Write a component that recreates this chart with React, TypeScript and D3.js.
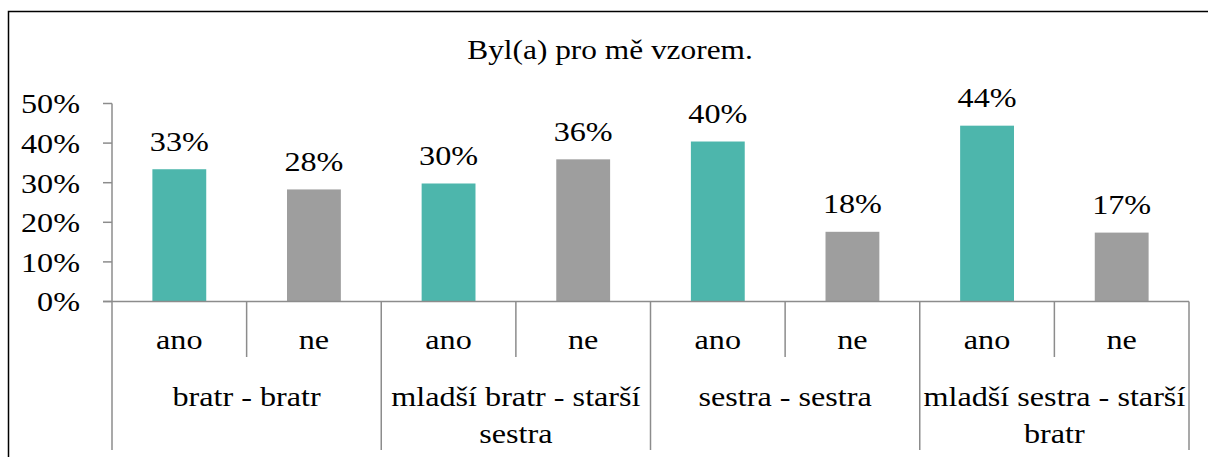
import React, { useLayoutEffect, useRef, useState } from "react";
import * as d3 from "d3";

const title = "Byl(a) pro mě vzorem.";
const groups = ["bratr - bratr", "mladší bratr - starší sestra", "sestra - sestra", "mladší sestra - starší bratr"];
const answers = ["ano", "ne"];
const values = [
  [0.334, 0.283],
  [0.298, 0.359],
  [0.404, 0.176],
  [0.444, 0.174],
];
const yTicks = [0, 0.1, 0.2, 0.3, 0.4, 0.5];
const colors = ["#4DB6AC", "#9E9E9E"];

const W = 1208;
const H = 457;
const FONT = "Liberation Serif";
const FS = 28;
const SX = 1.15;
const AXIS = "#8c8c8c";

const left = 112, right = 1189, top = 103.5, bottom = 301.5;

function T(props: { x: number; y: number; anchor?: string; size?: number; sx?: number; dy?: string; children: any }) {
  const { x, y, anchor = "middle", size = FS, sx = SX, dy, children } = props;
  return (
    <text
      transform={`translate(${x},${y}) scale(${sx},1)`}
      textAnchor={anchor}
      dy={dy}
      style={{ fontFamily: FONT, fontSize: `${size}px` }}
      fill="#000"
    >
      {children}
    </text>
  );
}

export default function App() {
  const slots = groups.flatMap((g, gi) => answers.map((a, ai) => ({ g, gi, a, ai, v: values[gi][ai] })));
  const x = d3.scaleBand<number>().domain(slots.map((_, i) => i)).range([left, right]).padding(0);
  const y = d3.scaleLinear().domain([0, 0.5]).range([bottom, top]);
  const bw = x.bandwidth();
  const barW = bw * 0.4;
  const fmt = d3.format(".0%");
  const seps = d3.range(slots.length + 1);

  const measureRef = useRef<SVGTextElement | null>(null);
  const [wrapped, setWrapped] = useState<string[][]>(groups.map((g) => [g]));

  useLayoutEffect(() => {
    const el = measureRef.current;
    if (!el) return;
    const maxW = bw * 2 - 6;
    const width = (s: string) => {
      el.textContent = s;
      return el.getComputedTextLength() * SX;
    };
    const res = groups.map((g) => {
      const words = g.split(" ");
      const lines: string[] = [];
      let cur = "";
      words.forEach((w) => {
        const test = cur ? cur + " " + w : w;
        if (width(test) > maxW && cur) {
          lines.push(cur);
          cur = w;
        } else cur = test;
      });
      if (cur) lines.push(cur);
      return lines;
    });
    el.textContent = "";
    setWrapped(res);
  }, [bw]);

  return (
    <svg width={W} height={H} style={{ position: "absolute", left: 0, top: 0, background: "#fff" }}>
      <text ref={measureRef} x={-1000} y={-1000} style={{ fontFamily: FONT, fontSize: `${FS}px` }} />
      <rect x={8.5} y={11.5} width={1300} height={600} fill="none" stroke="#000" strokeWidth={1.5} />
      <T x={610} y={59} sx={1.12}>{title}</T>

      <line x1={left} x2={left} y1={top} y2={bottom} stroke={AXIS} strokeWidth={1.5} />
      {yTicks.map((t) => (
        <g key={t}>
          <line x1={left - 9} x2={left} y1={y(t)} y2={y(t)} stroke={AXIS} strokeWidth={1.5} />
          <T x={80} y={y(t)} anchor="end" dy="0.35em">{fmt(t)}</T>
        </g>
      ))}

      {slots.map((s, i) => {
        const cx = (x(i) as number) + bw / 2;
        return (
          <g key={i}>
            <rect x={cx - barW / 2} y={y(s.v)} width={barW} height={bottom - y(s.v)} fill={colors[s.ai]} />
            <T x={cx} y={y(s.v) - 18.5}>{fmt(s.v)}</T>
            <T x={cx} y={349}>{s.a}</T>
          </g>
        );
      })}

      <line x1={left - 9} x2={right} y1={bottom} y2={bottom} stroke={AXIS} strokeWidth={1.5} />
      {seps.map((i) => {
        const xx = i < slots.length ? (x(i) as number) : right;
        return (
          <line key={i} x1={xx} x2={xx} y1={bottom} y2={i % 2 === 0 ? 450 : 357} stroke={AXIS} strokeWidth={1.5} />
        );
      })}

      {groups.map((g, gi) => {
        const cx = (x(gi * 2) as number) + bw;
        return (
          <g key={g}>
            {wrapped[gi].map((l, li) => (
              <T key={li} x={cx} y={406 + li * 37}>{l}</T>
            ))}
          </g>
        );
      })}
    </svg>
  );
}
